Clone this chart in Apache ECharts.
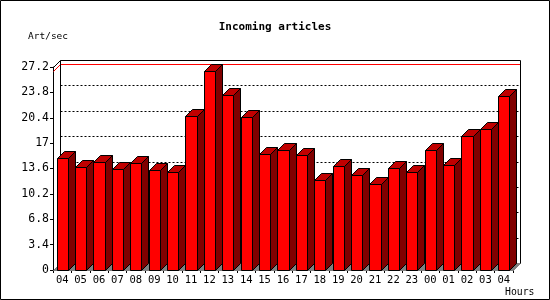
<!DOCTYPE html>
<html>
<head>
<meta charset="utf-8">
<script src="https://cdn.jsdelivr.net/npm/echarts@6/dist/echarts.min.js"></script>
<style>
html,body{margin:0;padding:0;background:#fff;}
#chart{width:550px;height:300px;}
</style>
</head>
<body>
<div id="chart"></div>
<script>
const hours = ['04','05','06','07','08','09','10','11','12','13','14','15','16','17','18','19','20','21','22','23','00','01','02','03','04'];
const artPerSec = [15.0,13.8,14.45,13.55,14.3,13.4,13.1,20.6,26.66,23.45,20.5,15.5,16.05,15.4,12.05,13.9,12.7,11.5,13.65,13.1,16.05,14.05,17.95,18.9,23.3];
const yTicks = [0,3.4,6.8,10.2,13.6,17,20.4,23.8,27.2];
const titleText = 'Incoming articles';
const yName = 'Art/sec';
const xName = 'Hours';

const D = 7;
const MONO = '"DejaVu Sans Mono", "Liberation Mono", monospace';
const chart = echarts.init(document.getElementById('chart'), null, {renderer: 'canvas'});
const maxVal = Math.max.apply(null, artPerSec);

function px(v){ return Math.round(v) + 0.5; }

function renderBackground(params, api) {
  const cs = params.coordSys;
  const L = px(cs.x), R = px(cs.x + cs.width);
  const B = px(cs.y + cs.height), T = px(cs.y);
  const ch = [];
  // floor
  ch.push({type:'polygon', shape:{points:[[L,B],[R,B],[R+D,B-D],[L+D,B-D]]},
    style:{fill:'#808080', stroke:'#808080', lineWidth:1}});
  // gridlines on back plane
  yTicks.forEach(function(t){
    if (t === 0 || t === yTicks[yTicks.length-1]) return;
    const y = px(api.coord([0, t])[1]) - D;
    ch.push({type:'line', shape:{x1:L+D, y1:y, x2:R+D, y2:y},
      style:{stroke:'#000', lineWidth:1, lineDash:[2,2]}});
  });
  // max value red line
  const ym = px(api.coord([0, maxVal])[1]);
  ch.push({type:'polyline', shape:{points:[[L,ym],[L+D,ym-D],[R+D,ym-D]]},
    style:{stroke:'#ff0000', lineWidth:1, fill:null}});
  // back plane frame
  ch.push({type:'polyline', shape:{points:[[L+D,B-D],[L+D,T-D],[R+D,T-D],[R+D,B-D]]},
    style:{stroke:'#000', lineWidth:1, fill:null}});
  ch.push({type:'line', shape:{x1:L, y1:T, x2:L+D, y2:T-D}, style:{stroke:'#000', lineWidth:1}});
  return {type:'group', children: ch};
}

function renderBar(params, api) {
  const c = api.coord([api.value(0), api.value(1)]);
  const b = api.coord([api.value(0), 0]);
  const band = api.size([1, 0])[0];
  const w = band * 0.6;
  const x0 = px(c[0] - w/2), x1 = px(c[0] + w/2);
  const yT = px(c[1]), yB = px(b[1]);
  return {type:'group', children:[
    {type:'polygon', shape:{points:[[x1,yT],[x1+D,yT-D],[x1+D,yB-D],[x1,yB]]},
      style:{fill:'#800000', stroke:'#000', lineWidth:1}},
    {type:'polygon', shape:{points:[[x0,yT],[x1,yT],[x1+D,yT-D],[x0+D,yT-D]]},
      style:{fill:'#c00000', stroke:'#000', lineWidth:1}},
    {type:'polygon', shape:{points:[[x0,yT],[x1,yT],[x1,yB],[x0,yB]]},
      style:{fill:'#ff0000', stroke:'#000', lineWidth:1}}
  ]};
}

chart.setOption({
  animation: false,
  backgroundColor: '#fff',
  grid: {left: 53, right: 37, top: 67, bottom: 30, containLabel: false},
  xAxis: {
    type: 'category', data: hours, boundaryGap: true,
    axisLine: {show: true, lineStyle: {color: '#000', width: 1}},
    axisTick: {show: true, length: 3, alignWithLabel: false, interval: 0, lineStyle: {color: '#000'}},
    axisLabel: {interval: 0, margin: 5, color: '#000', fontFamily: MONO, fontSize: 10.5},
    splitLine: {show: false}
  },
  yAxis: {
    type: 'value', min: 0, max: 27.2, interval: 3.4,
    axisLine: {show: true, lineStyle: {color: '#000', width: 1}},
    axisTick: {show: true, length: 3, lineStyle: {color: '#000'}},
    axisLabel: {margin: 4, color: '#000', fontFamily: MONO, fontSize: 11.5,
      formatter: function(v){ return String(parseFloat(v.toFixed(1))); }},
    splitLine: {show: false}
  },
  series: [
    {type: 'custom', renderItem: renderBackground, data: [[0, 0]], z: 1, silent: true},
    {type: 'custom', renderItem: renderBar, z: 2,
      data: artPerSec.map(function(v, i){ return [i, v]; }),
      encode: {x: 0, y: 1}}
  ],
  graphic: [
    {type: 'rect', shape: {x: 0.5, y: 0.5, width: 549, height: 299},
      style: {fill: null, stroke: '#000', lineWidth: 1}, z: 100},
    {type: 'text', x: 275, y: 27, style: {text: titleText, fontFamily: MONO, fontWeight: 'bold',
      fontSize: 11, fill: '#000', align: 'center', verticalAlign: 'middle'}},
    {type: 'text', x: 28, y: 37, style: {text: yName, fontFamily: MONO,
      fontSize: 9.5, fill: '#000', align: 'left', verticalAlign: 'middle'}},
    {type: 'text', x: 505, y: 292, style: {text: xName, fontFamily: MONO,
      fontSize: 9.8, fill: '#000', align: 'left', verticalAlign: 'middle'}}
  ]
});
</script>
</body>
</html>
